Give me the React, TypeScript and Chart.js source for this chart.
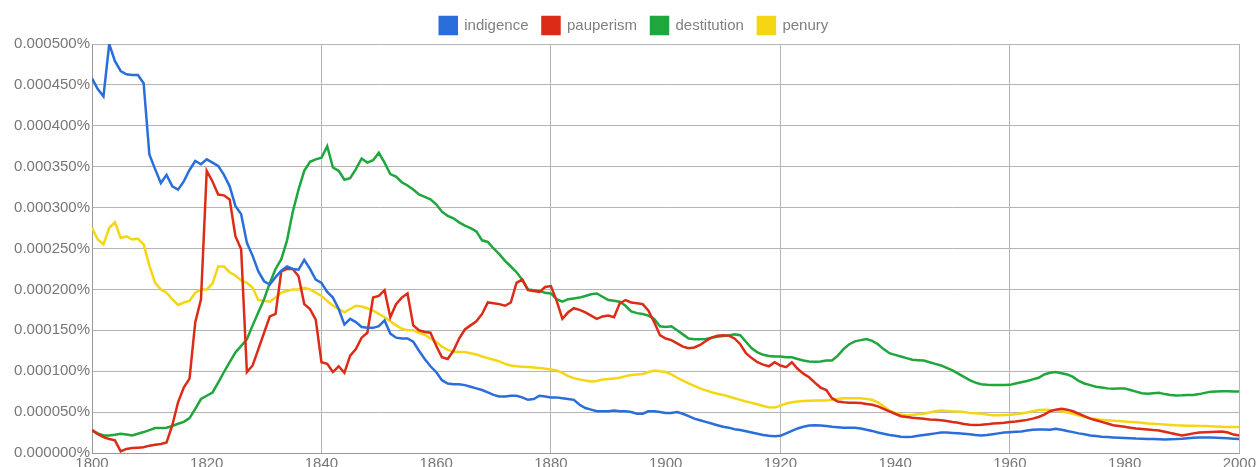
import React, { useEffect, useRef } from "react";
import { Chart, registerables } from "chart.js";

Chart.register(...registerables);

// Values are in millionths of a percent (500 = 0.000500%)
const years: number[] = Array.from({ length: 201 }, (_, i) => 1800 + i);

const seriesNames = ["indigence", "pauperism", "destitution", "penury"];

const indigence = [
  458, 445, 436, 500, 479, 467, 463, 462, 462, 452,
  365, 347, 330, 340, 326, 322, 332, 346, 357, 353,
  359, 355, 351, 340, 326, 302, 292, 257, 241, 222,
  210, 206, 215, 223, 228, 225, 224, 236, 225, 212,
  208, 197, 190, 176, 157, 164, 160, 154, 153, 153,
  155, 162, 146, 141, 140, 140, 136, 125, 115, 106,
  99, 89, 85, 84, 84, 83, 81, 79, 77, 74,
  71, 69, 69, 70, 70, 68, 65, 66, 70, 69,
  68, 68, 67, 66, 65, 59, 55, 53, 51, 51,
  51, 52, 51, 51, 50, 48, 48, 51, 51, 50,
  49, 49, 50, 48, 45, 42, 40, 38, 36, 34,
  32, 31, 29, 28, 26.5, 25, 23.5, 22, 21, 20.5,
  21, 24, 27, 30, 32, 33.5, 34, 33.7, 33, 32,
  31.5, 31, 31, 31, 30, 28.5, 27, 25, 23.5, 22,
  21, 20, 19.5, 20, 21, 22, 23, 24, 25, 25,
  24.5, 24, 23.5, 23, 22, 21.5, 22, 23, 24, 25,
  25.5, 26, 26.4, 27.5, 28.5, 28.8, 28.6, 28.4, 29.6, 28.5,
  27, 25.5, 24, 23, 21.5, 20.8, 20, 19.5, 19, 18.6,
  18.3, 18, 17.6, 17.4, 17.2, 17, 16.8, 16.6, 16.8, 17,
  17.4, 18, 18.5, 19, 19, 18.8, 18.5, 18.3, 18, 17.5,
  17,
];

const pauperism = [
  28, 23, 19.5, 17, 15.5, 2, 5, 6, 6.5, 7,
  9, 10, 11, 13, 34, 62, 80, 91, 160, 188,
  345, 332, 316, 315, 310, 265, 249, 99, 107, 127,
  147, 167, 170, 222, 225, 225, 216, 182, 176, 163,
  111, 109, 99, 106, 98, 119, 127, 141, 147, 190,
  192, 199, 166, 182, 190, 195, 156, 150, 148, 147,
  131, 117, 115, 125, 140, 151, 156, 161, 170, 184,
  183, 182, 180, 184, 208, 212, 199, 198, 197, 203,
  204, 186, 164, 172, 177, 175, 172, 168, 164, 167,
  168, 166, 183, 187, 184, 183, 182, 174, 160, 144,
  140, 138, 134, 130, 128, 129, 132, 137, 141, 143.5,
  144, 143.5, 140, 133, 122, 116, 111, 108, 106, 111,
  107, 105, 111, 103, 97, 92.6, 86, 80, 77, 67,
  63, 62, 61.5, 61.3, 61, 60, 59, 57, 54, 51,
  48, 45, 44, 43, 42.6, 42, 41, 40.6, 40, 39,
  37.8, 37, 35.5, 34.5, 34.3, 34.5, 35, 36, 36.5, 37,
  37.8, 38.5, 39.5, 40.5, 42, 44, 47, 51, 53, 54,
  53, 51, 48, 45, 42, 40, 38, 36, 34, 33,
  32, 31, 30, 29.3, 28.6, 28, 27.6, 26, 24.4, 23,
  21.5, 22.5, 24, 25, 25.3, 25.6, 26, 26.4, 25, 22.5,
  21.5,
];

const destitution = [
  28, 24, 21.5, 21.5, 22.4, 23.6, 22.5, 21.5, 23.5, 25.6,
  28, 30.5, 30.5, 31, 33, 35.7, 38, 42.6, 54, 66,
  70, 74, 86, 99, 111, 123, 131, 139, 156, 172,
  188, 208, 225, 237, 260, 295, 322, 345, 356, 359,
  361, 375, 349, 345, 334, 336, 347, 360, 355, 358,
  367, 355, 341, 338, 331, 327, 322, 316, 313, 310,
  304, 295, 290, 287, 282, 278, 275, 271, 260, 258,
  250, 243, 235, 228, 221, 212, 200, 199, 198, 196,
  195, 188, 185, 188, 189, 190, 192, 194, 195, 191,
  187, 186, 185, 180, 173, 171, 170, 168, 164, 155,
  154, 155, 150, 145, 140, 139, 139, 139.5, 141, 142,
  143, 143.6, 145, 144, 136, 128, 123, 120, 118.5, 118,
  118, 117, 117, 115, 113, 112, 111.5, 112, 113, 113,
  119, 127, 133, 136.5, 138, 139.4, 137, 133, 127, 122,
  120, 118, 116, 114, 113.5, 113, 111, 109, 107, 104,
  101, 97, 93, 89, 86, 84, 83.3, 83, 83, 83.2,
  83.3, 85, 86.5, 88, 90, 92, 96, 98, 99, 97.5,
  96, 93, 88, 85, 83, 81, 80, 79, 78.4, 79,
  79, 77, 75, 73, 72.5, 73, 73.5, 72, 71, 70.3,
  70.5, 71, 71, 72, 73.5, 75, 75.2, 75.5, 75.5, 75.3,
  75.2,
];

const penury = [
  275, 261, 255, 275, 282, 263, 265, 261, 262, 255,
  229, 208, 200, 196, 188, 181, 184, 186, 196, 200,
  200, 207, 228, 228, 221, 217, 211, 208, 202, 187,
  186, 185, 190, 196, 198, 200, 200, 202, 200, 196,
  192, 186, 180, 176, 172, 176, 180, 179, 177, 174,
  170, 166, 161, 156, 152, 150, 150, 147, 144.5, 140,
  136, 130, 126, 124, 123.5, 123.4, 122, 120.5, 118, 116,
  114, 112, 109, 107, 106, 105.5, 105, 104.5, 104, 103,
  102, 101, 98, 94, 91.5, 90, 88.5, 87.3, 88, 90,
  90.5, 91, 92, 94, 95.4, 96, 96.6, 99, 100.7, 100,
  99, 96, 92, 88.5, 85, 82, 79, 76.5, 74.3, 72.5,
  71, 69, 67, 65, 63, 61.3, 59.5, 57.5, 56, 55.5,
  58, 60.5, 62, 63, 63.5, 64, 64.2, 64.2, 64.2, 65,
  66, 67, 67, 67, 67, 66, 65, 62, 57, 52,
  49, 47, 46, 46.5, 47.5, 48, 49.5, 51, 52, 51.5,
  51, 50.8, 50, 49, 48.7, 48, 47, 46, 46, 46.4,
  46.8, 47.5, 48.3, 49.5, 51, 52.5, 53, 52.5, 52, 51,
  49.5, 48, 46, 44, 42.6, 41.5, 40.5, 40, 39.5, 39,
  38.5, 38, 37.5, 37, 36.2, 35.7, 35.3, 34.8, 34.3, 33.8,
  33.6, 33.4, 33.2, 33, 32.9, 32.7, 32.5, 32, 31.8, 31.7,
  31.7,
];

const seriesValues = [indigence, pauperism, destitution, penury];
const seriesColors = ["#2a6edb", "#dc2b17", "#1fa63d", "#f5d614"];

const xTicks = [1800, 1820, 1840, 1860, 1880, 1900, 1920, 1940, 1960, 1980, 2000];
const yTicks = [0, 50, 100, 150, 200, 250, 300, 350, 400, 450, 500];

const PAD_LEFT = 10;

export default function App() {
  const canvasRef = useRef<HTMLCanvasElement | null>(null);

  useEffect(() => {
    if (!canvasRef.current) return;
    Chart.defaults.font.family = '"Liberation Sans", Arial, Helvetica, sans-serif';
    const chart = new Chart(canvasRef.current, {
      type: "line",
      data: {
        datasets: seriesNames.map((name, si) => ({
          label: name,
          data: years.map((yr, i) => ({ x: yr, y: seriesValues[si][i] })),
          borderColor: seriesColors[si],
          backgroundColor: seriesColors[si],
          borderWidth: 2.5,
          pointRadius: 0,
          tension: 0,
          fill: false,
        })),
      },
      options: {
        animation: false,
        responsive: false,
        maintainAspectRatio: false,
        layout: { padding: { top: 3, right: 0, left: PAD_LEFT, bottom: 0 } },
        plugins: {
          legend: {
            display: true,
            position: "top",
            labels: {
              boxWidth: 17,
              boxHeight: 17,
              padding: 14,
              color: "#808080",
              font: { size: 15 },
            },
          },
          tooltip: { enabled: false },
        },
        scales: {
          x: {
            type: "linear",
            min: xTicks[0],
            max: xTicks[xTicks.length - 1],
            afterBuildTicks: (scale: any) => {
              scale.ticks = xTicks.map((v) => ({ value: v }));
            },
            ticks: {
              color: "#777",
              font: { size: 15 },
              padding: 2,
              maxRotation: 0,
              autoSkip: false,
              callback: (v: any) => String(v),
            },
            grid: {
              drawTicks: false,
              color: (ctx: any) =>
                ctx.tick && ctx.tick.value % 40 === 0 ? "#b5b5b5" : "rgba(0,0,0,0)",
              lineWidth: 1,
            },
            border: { display: true, color: "#999", width: 1 },
          },
          y: {
            type: "linear",
            min: yTicks[0],
            max: yTicks[yTicks.length - 1],
            afterBuildTicks: (scale: any) => {
              scale.ticks = yTicks.map((v) => ({ value: v }));
            },
            afterFit: (scale: any) => {
              scale.width = 92 - PAD_LEFT;
            },
            ticks: {
              color: "#777",
              font: { size: 15 },
              padding: 2,
              autoSkip: false,
              callback: (v: any) => (Number(v) / 1e6).toFixed(6) + "%",
            },
            grid: { drawTicks: false, color: "#b5b5b5", lineWidth: 1 },
            border: { display: true, color: "#999", width: 1 },
          },
        },
      },
    });
    return () => chart.destroy();
  }, []);

  return (
    <div
      style={{
        position: "fixed",
        top: 0,
        left: 0,
        width: 1258,
        height: 467,
        overflow: "hidden",
        background: "#fff",
      }}
    >
      <canvas ref={canvasRef} width={1258} height={475} style={{ display: "block" }} />
    </div>
  );
}
